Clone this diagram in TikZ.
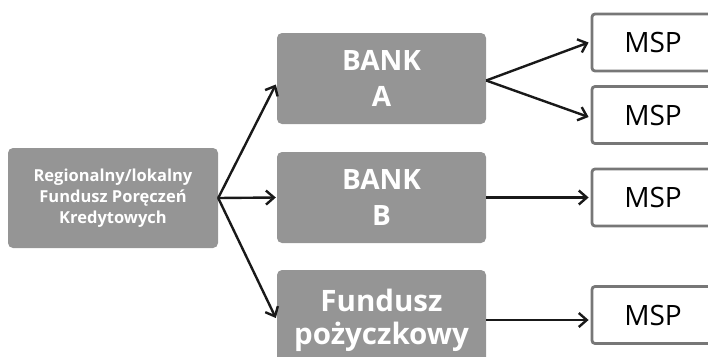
\documentclass[tikz,border=0pt]{standalone}
\usepackage{fontspec}
\setmainfont{Open Sans}
\usetikzlibrary{arrows.meta}
\definecolor{boxgray}{HTML}{959595}
\definecolor{edgegray}{HTML}{777777}
\begin{document}
\begin{tikzpicture}[x=1pt,y=-1pt,
  graybox/.style={draw=none,fill=boxgray,rounded corners=5pt,text=white,font=\bfseries,align=center,inner sep=0pt},
  mspbox/.style={draw=edgegray,line width=2.8pt,rounded corners=3pt,fill=white,inner sep=0pt,minimum width=122pt,minimum height=57pt},
  conn/.style={line width=2.4pt,draw=black!90,-{Straight Barb[length=8pt,width=14pt,line width=2.4pt]}}]
\useasboundingbox (0,0) rectangle (708,356);
\node[graybox,minimum width=210pt,minimum height=100pt,font=\bfseries\fontsize{16.5}{21}\selectfont] (src) at (113,198) {Regionalny/lokalny\\Fundusz Poręczeń\\Kredytowych};
\node[graybox,minimum width=209pt,minimum height=91pt,font=\bfseries\fontsize{28}{36}\selectfont] (bankA) at (381.5,78.5) {BANK\\A};
\node[graybox,minimum width=209pt,minimum height=91pt,font=\bfseries\fontsize{28}{36}\selectfont] (bankB) at (381.5,197.5) {BANK\\B};
\node[graybox,minimum width=209pt,minimum height=100pt,font=\bfseries\fontsize{29.5}{33}\selectfont] (fund) at (381.5,320) {\raisebox{4pt}{Fundusz}\\\raisebox{4pt}{pożyczkowy}};
\node[mspbox,font=\fontsize{28}{30}\selectfont] (m1) at (653,42.5) {MSP};
\node[mspbox,font=\fontsize{28}{30}\selectfont] (m2) at (653,115) {MSP};
\node[mspbox,font=\fontsize{28}{30}\selectfont] (m3) at (653,197.5) {MSP};
\node[mspbox,font=\fontsize{28}{30}\selectfont] (m4) at (653,315) {MSP};
\draw[conn] (src.east) -- ([yshift=-6pt,xshift=-1pt]bankA.west);
\draw[conn] (src.east) -- ([xshift=-1pt]bankB.west);
\draw[conn] (src.east) -- ([yshift=2pt,xshift=-1pt]fund.west);
\draw[conn] ([yshift=-2pt]bankA.east) -- ([xshift=-2pt]m1.west);
\draw[conn] ([yshift=-2pt]bankA.east) -- ([xshift=-2pt,yshift=-2pt]m2.west);
\draw[conn] (bankB.east) -- ([xshift=-2pt]m3.west);
\draw[conn] (fund.east) -- ([xshift=-2pt,yshift=-5pt]m4.west);
\end{tikzpicture}
\end{document}
